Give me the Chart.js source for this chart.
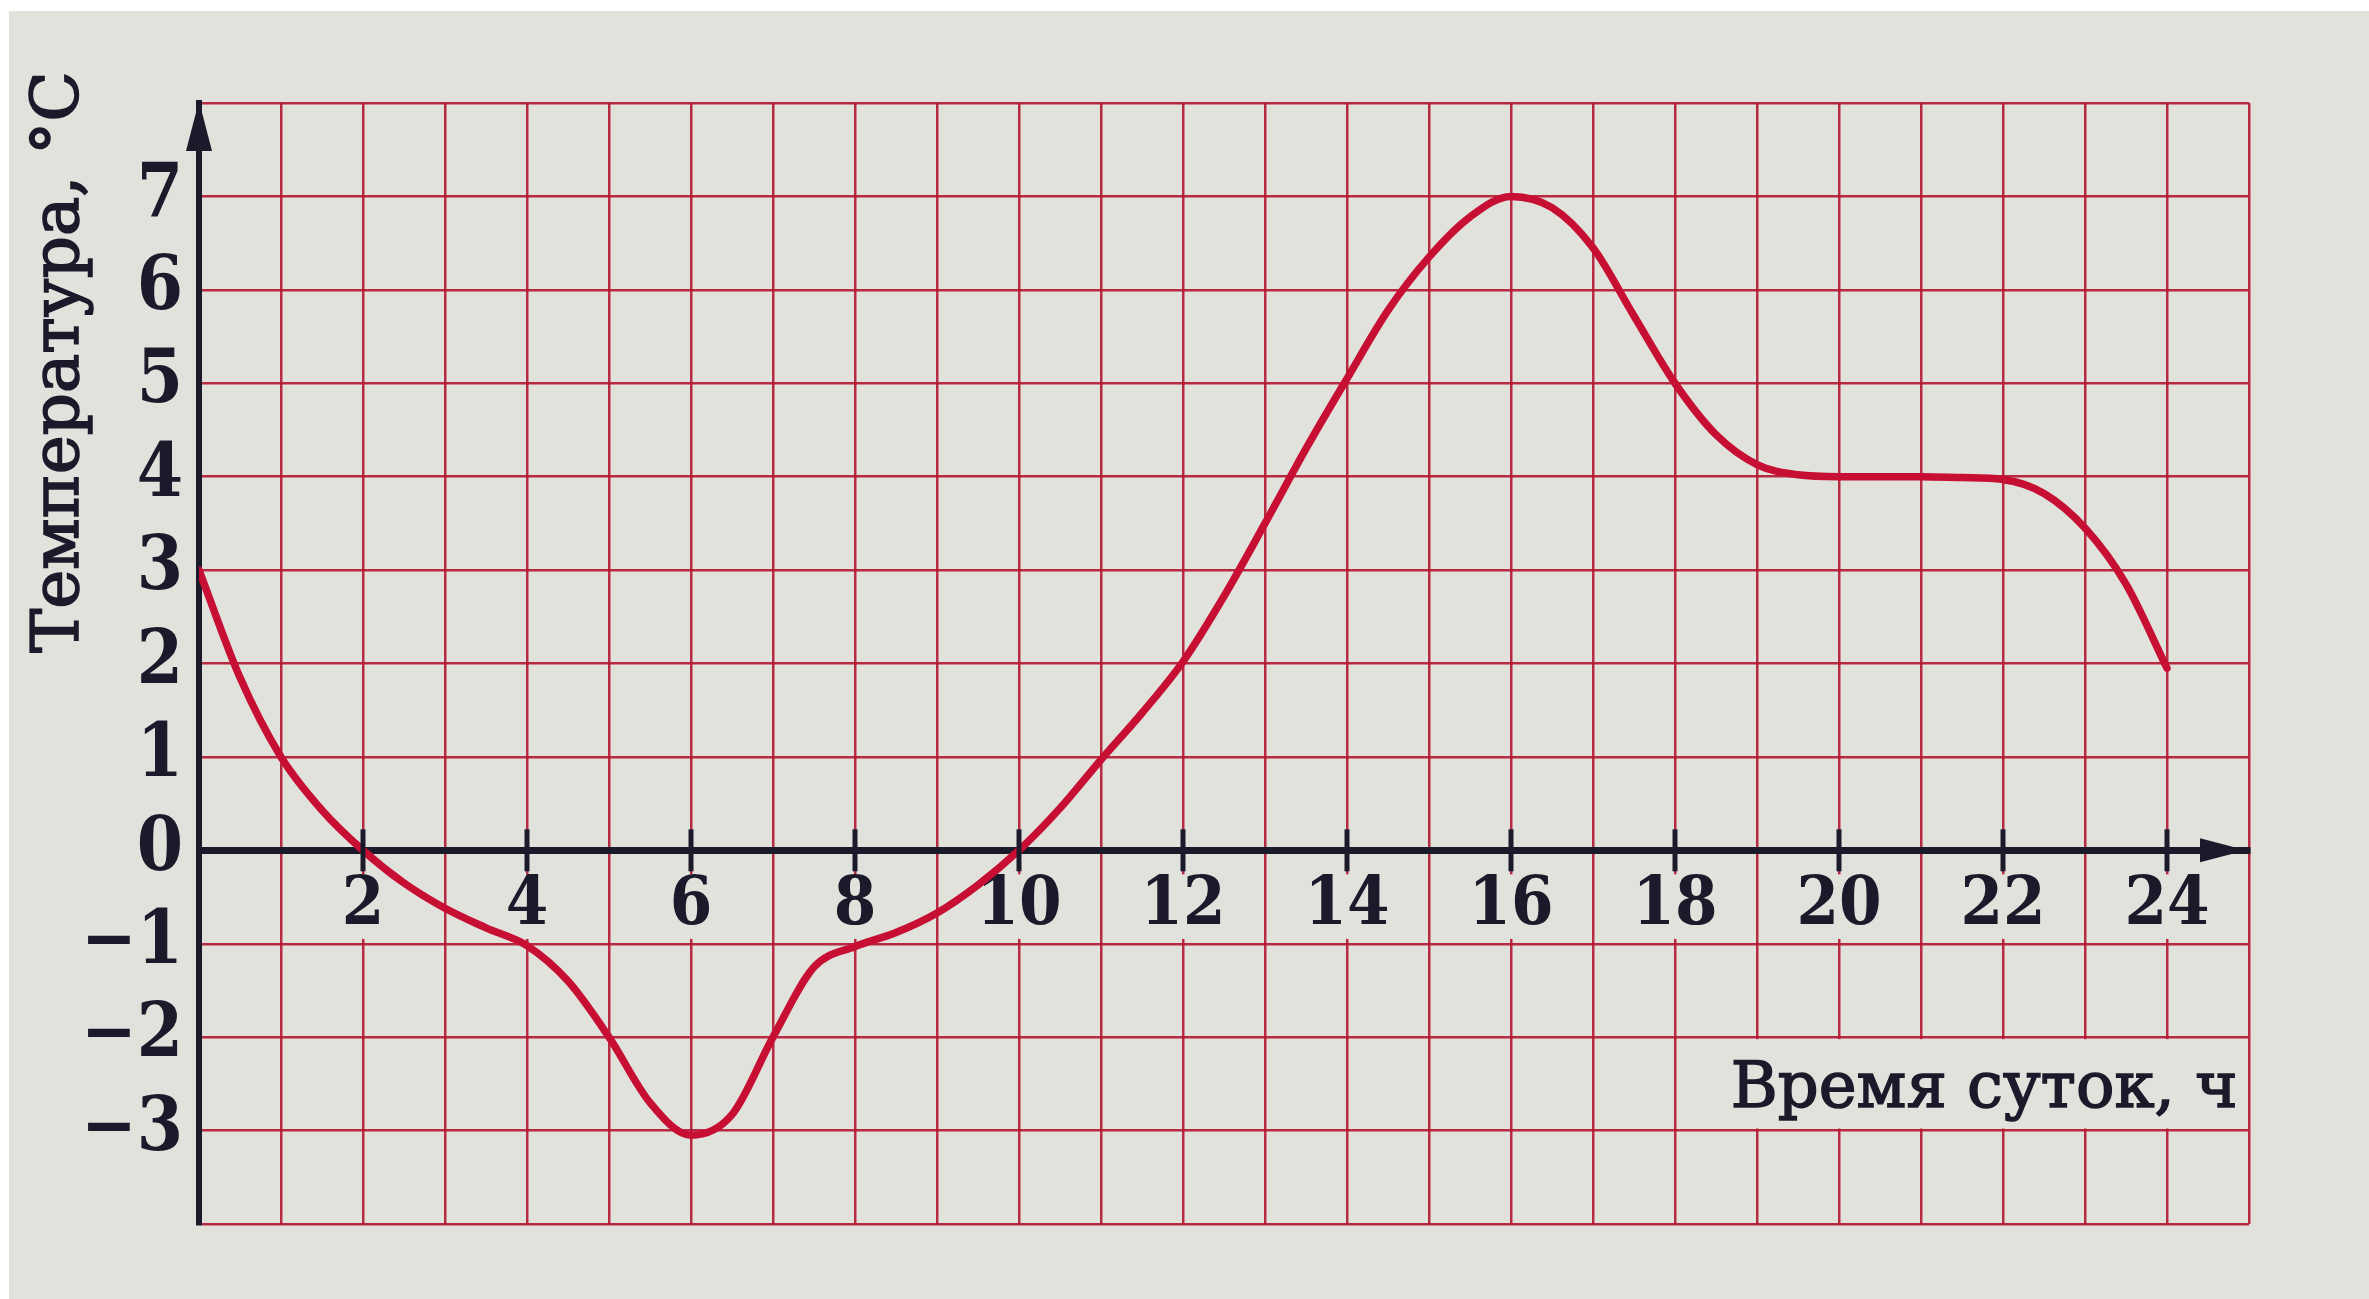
<!DOCTYPE html>
<html>
<head>
<meta charset="utf-8">
<script src="https://cdn.jsdelivr.net/npm/chart.js@4.4.0/dist/chart.umd.min.js"></script>
<style>
  html, body { margin: 0; padding: 0; }
  body {
    width: 2369px; height: 1299px; overflow: hidden;
    background:
      linear-gradient(#ffffff, #ffffff) top left / 100% 11px no-repeat,
      linear-gradient(#ffffff, #ffffff) top left / 9px 100% no-repeat,
      #e2e2dd;
  }
  #c { position: absolute; left: 0; top: 0; }
</style>
</head>
<body>
<canvas id="c" width="2369" height="1299"></canvas>
<script>
// ---- data (hour of the day, temperature °C) ----
const hours = [0, 0.5, 1, 1.5, 2, 2.5, 3, 3.5, 4, 4.5, 5, 5.5, 6, 6.5, 7, 7.5, 8, 8.5, 9, 9.5,
               10, 10.5, 11, 11.5, 12, 12.5, 13, 13.5, 14, 14.5, 15, 15.5, 16, 16.5, 17, 17.5,
               18, 18.5, 19, 19.5, 20, 20.5, 21, 21.5, 22, 22.5, 23, 23.5, 24];
const temps = [3.00, 1.85, 1.00, 0.43, 0.00, -0.35, -0.62, -0.83, -1.02, -1.40, -2.00, -2.70, -3.05, -2.83, -2.00, -1.25, -1.03, -0.88, -0.67, -0.37,
               0.00, 0.45, 0.97, 1.47, 2.02, 2.72, 3.50, 4.30, 5.05, 5.78, 6.35, 6.78, 7.00, 6.88, 6.45, 5.72,
               5.00, 4.45, 4.13, 4.02, 4.00, 4.00, 4.00, 3.99, 3.97, 3.82, 3.45, 2.85, 1.95];

// ---- axes ----
const xMin = 0, xMax = 25;
const yMin = -4, yMax = 8;
const xLabelHours = [2, 4, 6, 8, 10, 12, 14, 16, 18, 20, 22, 24];
const yLabelValues = [7, 6, 5, 4, 3, 2, 1, 0, -1, -2, -3];
const xTitle = 'Время суток, ч';
const yTitle = 'Температура, °C';

// ---- styles ----
const PAPER = '#e2e2dd';
const GRID = 'rgba(178,22,48,0.9)';
const INK = '#1b1a2b';
const CURVE = '#c70f34';
const SERIF = '"DejaVu Serif", "Liberation Serif", serif';

function yLabel(v) {
  if (!yLabelValues.includes(v)) return '';
  return v < 0 ? '\u2212' + Math.abs(v) : String(v);
}

function heavyText(ctx, text, x, y) {
  ctx.fillText(text, x, y);
  ctx.lineWidth = 1.6;
  ctx.strokeStyle = INK;
  ctx.strokeText(text, x, y);
}

const decor = {
  id: 'decor',
  beforeDatasetsDraw(chart) {
    const { ctx, scales: { x, y } } = chart;
    ctx.save();
    ctx.font = `64px ${SERIF}`;
    const w = ctx.measureText(xTitle).width;
    const cx = x.getPixelForValue(21.77);
    const top = y.getPixelForValue(-2) + 2;
    const bot = y.getPixelForValue(-3) - 2;
    const left = Math.max(cx - w / 2 - 22, x.getPixelForValue(18) + 3);
    const right = Math.min(cx + w / 2 + 12, x.getPixelForValue(25) - 3);
    ctx.fillStyle = PAPER;
    ctx.fillRect(left, top, right - left, bot - top);
    ctx.restore();
  },
  afterDatasetsDraw(chart) {
    const { ctx, scales: { x, y } } = chart;
    const y0 = y.getPixelForValue(0);
    const x0 = x.getPixelForValue(0);
    ctx.save();
    // tick marks on the time axis
    ctx.strokeStyle = INK;
    ctx.lineWidth = 5;
    xLabelHours.forEach(h => {
      const px = x.getPixelForValue(h);
      ctx.beginPath();
      ctx.moveTo(px, y0 - 21);
      ctx.lineTo(px, y0 + 21);
      ctx.stroke();
    });
    ctx.fillStyle = INK;
    // arrow of the temperature axis
    const yt = y.getPixelForValue(yMax) - 2;
    ctx.beginPath();
    ctx.moveTo(x0, yt);
    ctx.lineTo(x0 - 13, yt + 50);
    ctx.lineTo(x0 + 13, yt + 50);
    ctx.closePath();
    ctx.fill();
    // arrow of the time axis
    const xt = x.getPixelForValue(xMax) - 3;
    ctx.beginPath();
    ctx.moveTo(xt, y0);
    ctx.lineTo(xt - 46, y0 - 12);
    ctx.lineTo(xt - 46, y0 + 12);
    ctx.closePath();
    ctx.fill();
    // axis titles
    ctx.font = `64px ${SERIF}`;
    ctx.textAlign = 'center';
    ctx.textBaseline = 'alphabetic';
    heavyText(ctx, xTitle, x.getPixelForValue(21.77), y.getPixelForValue(-2.5) + 23);
    ctx.font = `66px ${SERIF}`;
    ctx.translate(78, 362);
    ctx.rotate(-Math.PI / 2);
    heavyText(ctx, yTitle, 0, 0);
    ctx.restore();
  }
};

new Chart(document.getElementById('c'), {
  type: 'line',
  data: {
    datasets: [{
      data: hours.map((h, i) => ({ x: h, y: temps[i] })),
      borderColor: CURVE,
      borderWidth: 7.5,
      pointRadius: 0,
      fill: false,
      cubicInterpolationMode: 'monotone',
      borderCapStyle: 'round',
      borderJoinStyle: 'round'
    }]
  },
  options: {
    responsive: false,
    animation: false,
    devicePixelRatio: 1,
    layout: { padding: { top: 103, bottom: 75, right: 120, left: 0 } },
    plugins: { legend: { display: false }, tooltip: { enabled: false }, title: { display: false } },
    scales: {
      x: {
        type: 'linear', min: xMin, max: xMax,
        position: { y: 0 },
        afterFit(s) { s.height = 0; },
        ticks: {
          stepSize: 1, autoSkip: false, maxRotation: 0, minRotation: 0,
          padding: 24, color: INK,
          font: { family: SERIF, size: 68, weight: 'bold condensed', lineHeight: 0.95 },
          callback: v => (xLabelHours.includes(v) ? String(v) : ''),
          showLabelBackdrop: c => !!(c.tick && xLabelHours.includes(c.tick.value)),
          backdropColor: PAPER,
          backdropPadding: { x: 6, y: 0 }
        },
        grid: {
          color: c => (c.tick && c.tick.value === 0 ? 'rgba(0,0,0,0)' : GRID),
          lineWidth: 2.5,
          drawTicks: false
        },
        border: { display: true, color: INK, width: 7 }
      },
      y: {
        type: 'linear', min: yMin, max: yMax, position: 'left',
        afterFit(s) { s.width = 199; },
        ticks: {
          stepSize: 1, autoSkip: false, padding: 16, color: INK,
          font: { family: SERIF, size: 74, weight: 'bold condensed' },
          callback: v => yLabel(v)
        },
        grid: {
          color: c => (c.tick && c.tick.value === 0 ? 'rgba(0,0,0,0)' : GRID),
          lineWidth: 2.5,
          drawTicks: false
        },
        border: { display: true, color: INK, width: 6 }
      }
    }
  },
  plugins: [decor]
});
</script>
</body>
</html>
